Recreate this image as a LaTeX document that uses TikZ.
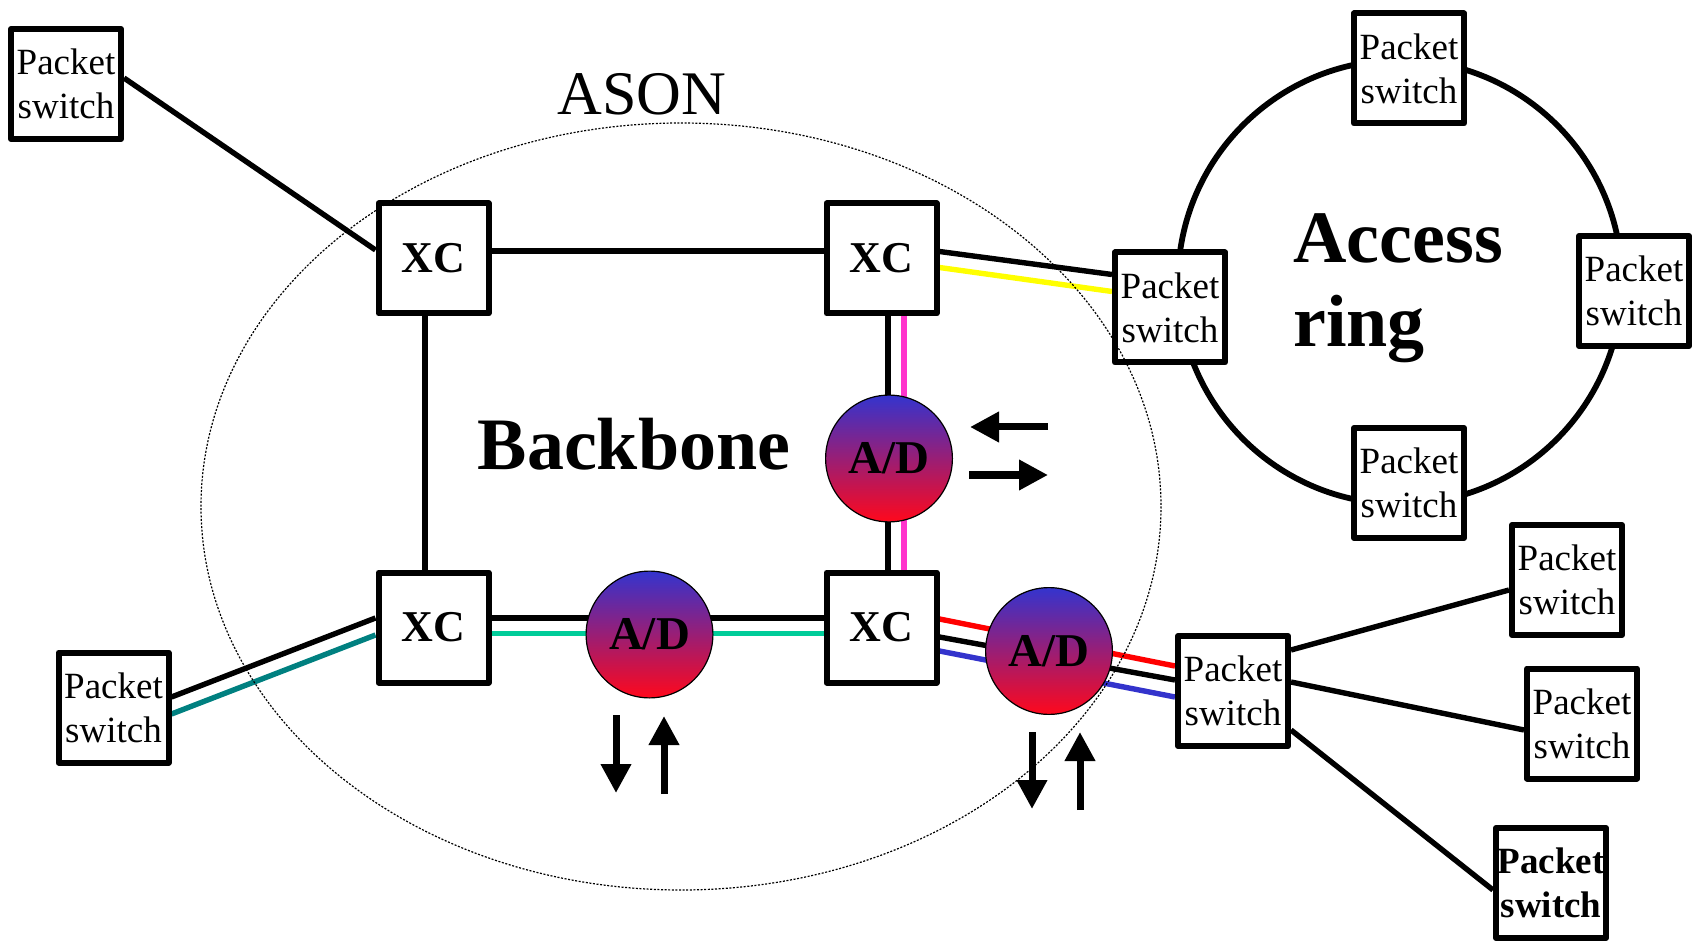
\documentclass[tikz,border=0pt]{standalone}
\usepackage{fontspec}
\setmainfont{Liberation Serif}
\usetikzlibrary{arrows.meta,calc}
\pgfdeclarelayer{bg}
\pgfsetlayers{bg,main}
\definecolor{cyellow}{RGB}{255,255,0}
\definecolor{cpink}{RGB}{255,51,204}
\definecolor{cgreen}{RGB}{0,204,153}
\definecolor{cteal}{RGB}{0,128,128}
\definecolor{cred}{RGB}{255,0,0}
\definecolor{cblue}{RGB}{51,51,204}
\definecolor{adtop}{RGB}{52,52,206}
\definecolor{adbot}{RGB}{255,8,28}
\begin{document}
\begin{tikzpicture}[x=0.5pt,y=-0.5pt,
  psbox/.style={draw, line width=3pt, line join=round, fill=white,
    minimum width=55pt, minimum height=55pt, inner sep=0pt, align=center,
    font=\fontsize{18.5pt}{22pt}\selectfont},
  xcbox/.style={psbox, font=\bfseries\fontsize{22pt}{26pt}\selectfont},
  adnode/.style={circle, draw, line width=0.6pt, minimum size=63.4pt, inner sep=0pt,
    top color=adtop, bottom color=adbot, font=\bfseries\fontsize{23.5pt}{28pt}\selectfont},
  link/.style={line width=2.7pt},
  ringline/.style={line width=2.9pt},
  flowarrow/.style={line width=3.5pt, -{Triangle[length=14.5pt,width=14.5pt]}},
  asonline/.style={line width=0.6pt, dash pattern=on 1pt off 0.8pt},
  bigtext/.style={font=\bfseries\fontsize{37pt}{42pt}\selectfont, inner sep=0pt}
]
\useasboundingbox (0,0) rectangle (1699,941);

% nodes
\node[psbox] (ps1) at (66,84) {Packet\\switch};
\node[psbox] (ps2) at (113.5,707.5) {Packet\\switch};
\node[xcbox] (xc1) at (433.5,258.5) {XC};
\node[xcbox] (xc2) at (881.5,258.5) {XC};
\node[xcbox] (xc3) at (433.5,627.5) {XC};
\node[xcbox] (xc4) at (881.5,627.5) {XC};
\node[adnode] (ad1) at (889,458.5) {A/D};
\node[adnode] (ad2) at (649.5,634.5) {A/D};
\node[adnode] (ad3) at (1049,651) {A/D};
\node[psbox] (psR) at (1170,307.5) {Packet\\switch};
\node[psbox] (psT) at (1409,68.5) {Packet\\switch};
\node[psbox] (psRt) at (1634,291) {Packet\\switch};
\node[psbox] (psB) at (1409,483) {Packet\\switch};
\node[psbox] (psM) at (1233,691) {Packet\\switch};
\node[psbox] (psF1) at (1567,580) {Packet\\switch};
\node[psbox] (psF2) at (1582,723.5) {Packet\\switch};
\node[psbox, font=\bfseries\fontsize{18.5pt}{22pt}\selectfont] (psF3) at (1551,883) {Packet\\switch};

% texts
\node[font=\fontsize{31pt}{36pt}\selectfont, inner sep=0pt, anchor=base] (ason) at (642,115) {ASON};
\node[bigtext, anchor=base] (backbone) at (634,470) {Backbone};
\node[bigtext, anchor=base west] (access) at (1293,263) {Access};
\node[bigtext, anchor=base west] (ringtxt) at (1293,347) {ring};

\begin{pgfonlayer}{bg}
  \draw[ringline] (1400,282) circle[radius=222];
  \draw[link] ($(ps1.east)+(0,-6)$) -- ($(xc1.west)+(0,-8.5)$);
  \draw[link] ($(xc1.east)+(0,-7.5)$) -- ($(xc2.west)+(0,-7.5)$);
  \draw[link] ($(xc1.south)+(-8.5,0)$) -- ($(xc3.north)+(-8.5,0)$);
  \draw[link] ($(xc2.east)+(0,-7)$) -- ($(psR.west)+(0,-33)$);
  \draw[link,cyellow] ($(xc2.east)+(0,9)$) -- ($(psR.west)+(0,-16)$);
  \draw[link] ($(xc2.south)+(6.5,0)$) -- ($(xc4.north)+(6.5,0)$);
  \draw[link,cpink] ($(xc2.south)+(22.5,0)$) -- ($(xc4.north)+(22.5,0)$);
  \draw[link] ($(xc3.east)+(0,-9.5)$) -- ($(xc4.west)+(0,-9.5)$);
  \draw[link,cgreen] ($(xc3.east)+(0,6)$) -- ($(xc4.west)+(0,6)$);
  \draw[link] ($(ps2.east)+(0,-10.5)$) -- ($(xc3.west)+(0,-9.5)$);
  \draw[link,cteal] ($(ps2.east)+(0,6.5)$) -- ($(xc3.west)+(0,7.5)$);
  \draw[link,cred] ($(xc4.east)+(0,-8.5)$) -- ($(psM.west)+(0,-25)$);
  \draw[link] ($(xc4.east)+(0,9.5)$) -- ($(psM.west)+(0,-11)$);
  \draw[link,cblue] ($(xc4.east)+(0,23.5)$) -- ($(psM.west)+(0,6)$);
  \draw[link] ($(psM.east)+(0,-41)$) -- ($(psF1.west)+(0,10)$);
  \draw[link] ($(psM.east)+(0,-9)$) -- ($(psF2.west)+(0,6.5)$);
  \draw[link] ($(psM.east)+(0,39)$) -- ($(psF3.west)+(0,7)$);
\end{pgfonlayer}

% ASON boundary
\draw[asonline] (681,506.5) ellipse[x radius=480, y radius=383.5];

% add/drop arrows
\coordinate (a1s) at (1048,427); \coordinate (a1e) at (970,427);
\coordinate (a2s) at (969,475);  \coordinate (a2e) at (1048,475);
\coordinate (b1s) at (616,715);  \coordinate (b1e) at (616,793);
\coordinate (b2s) at (664,794);  \coordinate (b2e) at (664,716);
\coordinate (c1s) at (1032,732); \coordinate (c1e) at (1032,809);
\coordinate (c2s) at (1080,810); \coordinate (c2e) at (1080,732);
\draw[flowarrow] (a1s) -- (a1e);
\draw[flowarrow] (a2s) -- (a2e);
\draw[flowarrow] (b1s) -- (b1e);
\draw[flowarrow] (b2s) -- (b2e);
\draw[flowarrow] (c1s) -- (c1e);
\draw[flowarrow] (c2s) -- (c2e);
\end{tikzpicture}
\end{document}
